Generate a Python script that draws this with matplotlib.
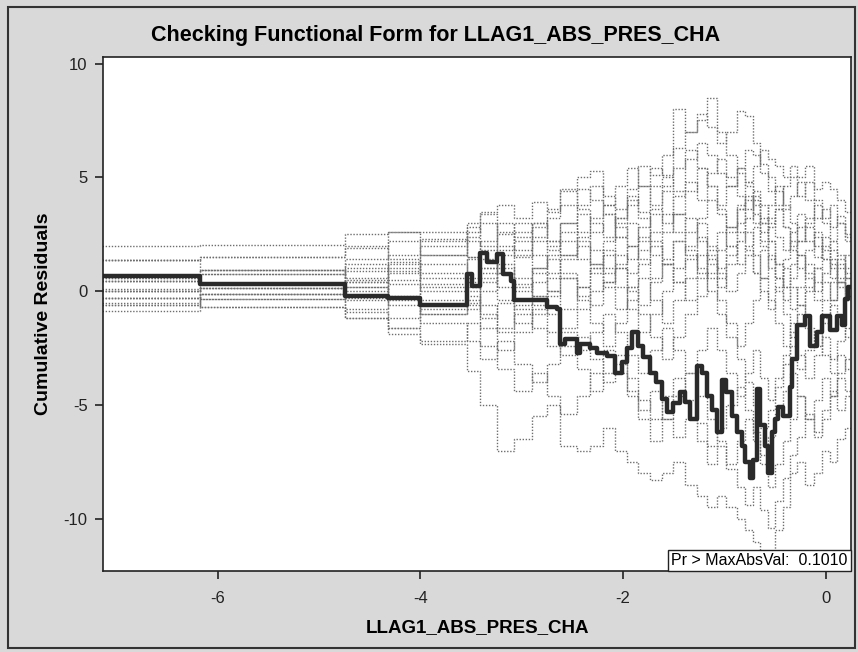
import matplotlib
matplotlib.use("Agg")
import matplotlib.pyplot as plt
from matplotlib.patches import Rectangle

plt.rcParams['font.family'] = ['Liberation Sans', 'DejaVu Sans']
plt.rcParams['axes.unicode_minus'] = False

# observed cumulative residual path (step function)
obs_x = [-7.2, -6.17, -4.74, -4.32, -4.00, -3.54, -3.49, -3.41, -3.34, -3.24,
         -3.18, -3.11, -3.08, -2.75, -2.65, -2.62, -2.57, -2.45, -2.42, -2.33,
         -2.26, -2.16, -2.08, -2.01, -1.96, -1.91, -1.85, -1.80, -1.73, -1.67,
         -1.62, -1.57, -1.51, -1.44, -1.39, -1.34, -1.27, -1.22, -1.17, -1.12,
         -1.07, -1.02, -0.98, -0.93, -0.88, -0.83, -0.80, -0.75, -0.72, -0.68,
         -0.65, -0.60, -0.57, -0.53, -0.50, -0.47, -0.42, -0.35, -0.33, -0.28,
         -0.21, -0.16, -0.09, -0.04, 0.04, 0.11, 0.16, 0.19, 0.22, 0.26]
obs_y = [0.66, 0.31, -0.21, -0.28, -0.62, 0.75, 0.22, 1.67, 1.27, 1.63,
         0.75, 0.44, -0.40, -0.70, -0.80, -2.30, -2.10, -2.70, -2.30, -2.50,
         -2.70, -2.85, -3.60, -3.10, -2.50, -1.80, -2.40, -2.90, -3.60, -4.00,
         -4.75, -5.30, -4.90, -4.45, -4.85, -5.60, -3.30, -3.60, -4.60, -5.20,
         -6.20, -3.90, -4.45, -5.50, -6.20, -6.80, -7.50, -8.20, -7.40, -4.30,
         -5.90, -6.80, -8.00, -6.20, -5.60, -5.10, -5.50, -4.20, -3.00, -1.50,
         -1.10, -2.40, -1.80, -1.10, -1.70, -1.10, -1.50, -0.35, 0.20, 0.20]

# simulated realizations, shared jump points
sim_x = [-7.2, -6.17, -4.74, -4.32, -4.0, -3.54, -3.41, -3.24, -3.08, -2.9,
         -2.75, -2.62, -2.45, -2.33, -2.2, -2.08, -1.96, -1.85, -1.73, -1.62,
         -1.51, -1.39, -1.27, -1.17, -1.07, -0.98, -0.88, -0.80, -0.72, -0.65,
         -0.57, -0.50, -0.42, -0.35, -0.28, -0.21, -0.12, -0.04, 0.04, 0.11,
         0.19, 0.26]
sim_a = [2.0, 2.05, 2.5, 2.6, 2.2, 3.0, 3.5, 3.8, 3.2, 3.9, 3.5, 4.5, 5.0, 5.3, 4.2, 3.6, 4.5, 5.5, 5.1, 6.0,
         8.0, 7.0, 7.5, 8.5, 7.0, 6.0, 5.2, 4.8, 5.5, 6.2, 5.8, 5.5, 5.0, 5.5, 5.0, 5.5, 4.5, 4.8, 4.5, 4.0, 3.5, 3.5]
sim_b = [1.37, 1.5, 1.9, 2.6, 2.6, 2.2, 1.8, 2.5, 3.0, 2.4, 3.2, 3.8, 4.5, 4.0, 3.4, 3.0, 3.8, 4.6, 5.4, 5.1,
         6.3, 7.0, 7.8, 7.2, 6.5, 7.0, 7.9, 7.7, 6.5, 5.6, 5.0, 4.4, 3.6, 4.2, 4.8, 4.0, 3.2, 3.6, 2.8, 3.3, 2.5, 2.5]
sim_c = [0.44, 0.93, 1.2, 0.9, 1.6, 2.4, 3.0, 2.0, 1.5, 2.2, 1.8, 2.6, 3.4, 3.0, 2.4, 3.2, 4.0, 3.5, 4.6, 5.0,
         4.4, 5.8, 6.5, 6.0, 5.2, 4.6, 5.4, 6.2, 6.0, 5.2, 4.4, 3.8, 4.6, 5.0, 4.2, 4.8, 4.0, 3.2, 3.8, 3.0, 2.2, 2.2]
sim_d = [0.0, 0.75, 0.4, 1.3, 0.8, 1.5, 1.0, 1.8, 2.6, 3.0, 2.2, 1.6, 2.4, 3.2, 3.8, 2.8, 2.0, 2.8, 3.6, 3.0,
         4.2, 4.8, 4.0, 5.2, 5.8, 5.0, 4.2, 3.6, 4.4, 3.8, 3.0, 3.6, 2.8, 2.0, 2.8, 2.2, 1.5, 2.4, 1.8, 1.0, 1.6, 1.6]
sim_e = [-0.28, 0.13, -0.3, 0.5, 1.2, 0.6, 1.4, 0.8, 0.2, 1.0, 1.6, 2.2, 1.4, 0.8, 1.6, 2.4, 3.0, 2.2, 1.6, 2.6,
         3.4, 2.6, 3.2, 4.0, 3.4, 2.8, 3.6, 4.2, 3.4, 2.6, 3.2, 2.4, 1.8, 2.6, 3.4, 2.8, 2.0, 1.4, 2.2, 1.6, 0.8, 0.8]
sim_f = [-0.62, -0.13, 0.2, -0.4, 0.3, -0.5, 0.4, 1.2, 0.6, -0.2, 0.6, 1.4, 2.0, 1.2, 0.4, 1.2, 2.0, 1.4, 0.6, 1.4,
         2.2, 1.6, 0.8, 1.8, 2.6, 2.0, 1.2, 2.0, 2.8, 2.2, 1.4, 0.6, 1.4, 2.2, 1.6, 0.8, 0.0, 0.8, 1.4, 0.6, 0.0, 0.0]
sim_g = [-0.88, -0.35, -0.8, -0.2, -1.0, -0.4, -1.2, -0.5, 0.3, -0.6, 0.0, 0.8, 0.2, -0.6, 0.4, 1.0, 0.2, -0.6, 0.4, 1.2,
         0.4, -0.4, 0.6, 1.4, 0.8, 0.0, 0.8, 1.6, 0.8, 0.0, -0.8, 0.2, 1.0, 0.2, -0.6, 0.2, 1.0, 0.4, -0.4, 0.4, -0.2, -0.2]
sim_h = [0.6, -0.7, -1.2, -1.9, -2.3, -3.5, -5.0, -7.0, -6.5, -5.5, -5.0, -6.8, -7.0, -6.8, -6.0, -7.0, -7.5, -8.0, -8.3, -8.0,
         -7.5, -8.5, -9.0, -9.5, -9.0, -9.5, -10.0, -10.5, -11.0, -12.5, -11.5, -10.5, -9.5, -8.0, -7.5, -8.5, -8.0, -7.0, -7.5, -6.5, -6.0, -6.0]
sim_i = [0.1, 0.3, 0.9, 1.6, 2.3, 1.5, 0.6, -0.4, -1.4, -0.8, -1.8, -2.8, -2.0, -3.0, -4.0, -3.2, -4.4, -5.2, -4.4, -5.6,
         -6.4, -5.6, -6.6, -7.6, -6.8, -7.8, -8.6, -9.4, -8.6, -9.6, -10.4, -9.2, -8.2, -7.2, -6.4, -5.4, -6.2, -5.2, -4.4, -5.2, -4.6, -4.6]
sim_j = [-0.5, -0.35, 0.2, -0.6, -1.4, -2.2, -3.0, -2.2, -3.2, -4.0, -3.2, -2.4, -3.4, -4.4, -3.6, -2.8, -3.8, -4.8, -5.6, -4.6,
         -3.8, -4.8, -5.8, -6.8, -6.0, -5.0, -4.2, -5.2, -6.2, -7.2, -6.4, -5.4, -4.4, -3.6, -4.6, -5.6, -4.8, -3.8, -4.6, -3.6, -3.0, -3.0]
sim_k = [1.37, 0.93, 0.4, -0.3, -1.0, -0.2, -1.0, -1.8, -1.0, -0.2, -1.0, -1.8, -2.6, -1.8, -1.0, -1.8, -2.8, -3.6, -2.6, -1.6,
         -2.6, -3.6, -2.6, -1.6, -2.6, -3.6, -4.6, -3.6, -2.6, -3.8, -4.8, -3.8, -2.8, -1.8, -2.8, -3.8, -2.8, -2.0, -3.0, -2.2, -1.6, -1.6]
sim_l = [0.44, 0.75, 1.4, 2.2, 1.6, 2.6, 3.4, 2.6, 1.8, 2.8, 3.6, 4.4, 3.6, 2.6, 3.4, 2.4, 1.4, 2.4, 3.4, 4.4,
         3.4, 4.4, 5.4, 4.6, 3.6, 2.6, 3.6, 2.6, 1.6, 0.6, -0.4, -1.4, -2.4, -1.4, -0.6, -1.6, -2.4, -1.4, -0.6, -1.4, -2.0, -2.0]
sim_m = [0.0, 0.13, -0.4, -1.2, -0.6, 0.2, 1.0, 0.2, -0.8, -1.6, -2.4, -1.6, -0.8, 0.0, 0.8, 1.6, 0.8, 1.8, 2.6, 3.4,
         2.6, 1.8, 1.0, 0.0, -1.0, -2.0, -3.0, -4.0, -5.0, -6.0, -5.2, -4.2, -3.2, -2.4, -3.4, -2.6, -1.8, -2.8, -3.6, -2.8, -3.4, -3.4]
sim_n = [-0.28, -0.13, 0.5, 1.0, 0.2, -0.6, -1.6, -2.6, -1.8, -1.0, -0.2, 0.6, -0.2, 1.0, 1.8, 1.0, 0.0, -1.0, -2.0, -3.0,
         -2.0, -1.0, -0.2, 0.8, 1.8, 2.8, 3.8, 4.8, 4.0, 3.0, 2.2, 1.2, 0.2, 1.2, 2.2, 3.2, 2.4, 1.4, 0.6, 1.4, 0.6, 0.6]
sim_o = [-0.62, -0.7, -1.2, -1.6, -0.8, 0.0, 0.8, 1.6, 2.4, 1.6, 0.8, 1.6, 2.6, 1.8, 1.0, 0.2, -0.8, -1.8, -1.0, 0.0,
         1.0, 2.0, 3.0, 2.0, 1.0, 2.0, 3.0, 4.0, 3.0, 2.0, 1.0, 0.0, -1.0, -2.0, -1.0, 0.0, 1.0, 2.0, 1.2, 0.4, -0.4, -0.4]
sim_p = [0.6, 0.3, -0.9, -1.6, -2.2, -1.4, -2.4, -3.4, -4.4, -3.6, -4.6, -5.4, -4.6, -3.6, -2.6, -3.6, -4.6, -5.6, -6.6, -5.6,
         -4.6, -3.6, -4.6, -5.6, -6.6, -7.6, -6.6, -5.6, -6.6, -7.6, -8.6, -7.6, -6.6, -5.6, -4.6, -5.6, -6.4, -5.6, -4.6, -3.8, -4.4, -4.4]
sim_q = [1.37, 1.5, 2.0, 1.4, 0.6, 1.4, 2.2, 3.0, 2.2, 3.0, 2.2, 3.0, 3.8, 4.6, 3.8, 4.6, 5.4, 4.6, 3.8, 4.6,
         5.4, 6.2, 5.4, 4.6, 3.8, 4.6, 5.4, 4.6, 3.8, 3.0, 3.8, 4.6, 3.8, 3.0, 2.2, 3.0, 3.8, 3.0, 2.2, 3.0, 2.4, 2.4]
sim_r = [0.0, 0.13, 0.0, 0.8, 0.0, -0.8, 0.0, 0.8, 1.6, 0.8, 0.0, -0.8, 0.2, 1.0, 0.2, -0.8, 0.2, 1.2, 2.0, 1.2,
         0.4, 1.4, 2.4, 1.6, 0.6, 1.6, 2.6, 1.8, 0.8, 1.8, 2.8, 3.6, 2.8, 1.8, 1.0, 1.8, 2.6, 1.8, 1.0, 0.2, 1.0, 1.0]
sim_s = [-0.28, -0.13, 1.0, 0.3, -0.4, 0.4, -0.6, -1.6, -0.6, 0.4, 1.4, 0.6, -0.4, -1.4, -2.4, -1.4, -0.4, 0.6, -0.4, -1.4,
         -0.4, 0.6, 1.6, 0.6, -0.4, -1.4, -2.4, -1.4, -0.4, 0.6, 1.6, 0.6, -0.4, 0.6, 1.6, 0.6, -0.4, -1.2, -0.4, 0.4, -0.2, -0.2]
sim_t = [0.44, 0.93, 0.6, 1.2, 2.0, 2.8, 2.0, 1.0, 0.0, 1.0, 2.0, 3.0, 2.2, 1.2, 2.2, 3.2, 4.2, 3.2, 2.2, 1.2,
         2.2, 3.2, 2.2, 1.2, 0.2, 1.2, 2.2, 3.2, 4.2, 3.2, 2.2, 1.2, 0.2, -0.8, 0.2, 1.2, 0.4, -0.4, 0.4, 1.2, 0.6, 0.6]
sim_paths = [sim_a, sim_b, sim_c, sim_d, sim_e, sim_f, sim_g, sim_h, sim_i, sim_j,
             sim_k, sim_l, sim_m, sim_n, sim_o, sim_p, sim_q, sim_r, sim_s, sim_t]

x_ticks = [-6, -4, -2, 0]
y_ticks = [-10, -5, 0, 5, 10]
p_value_text = "Pr > MaxAbsVal:  0.1010"

fig = plt.figure(figsize=(8.58, 6.52), dpi=100, facecolor='#d9d9d9')
fig.patches.append(Rectangle((0.009, 0.006), 0.988, 0.983, transform=fig.transFigure,
                             fill=False, edgecolor='#333333', linewidth=1.5))
ax = fig.add_axes([0.120, 0.124, 0.872, 0.789])
ax.set_facecolor('white')

for ys in sim_paths:
    ax.plot(sim_x, ys, drawstyle='steps-post', color='#6e6e6e',
            linestyle=(0, (1, 1.2)), linewidth=1.0)
ax.plot(obs_x, obs_y, drawstyle='steps-post', color='#2a2a2a', linewidth=3.2)

ax.set_xlim(-7.13, 0.25)
ax.set_ylim(-12.3, 10.3)
ax.set_xticks(x_ticks)
ax.set_yticks(y_ticks)
ax.tick_params(direction='out', length=6, width=1.2, labelsize=12, colors='#222222', pad=5)
ax.tick_params(axis='x', pad=8)
for side in ['top', 'right', 'bottom', 'left']:
    ax.spines[side].set_linewidth(1.2)
    ax.spines[side].set_color('#222222')

ax.set_xlabel("LLAG1_ABS_PRES_CHA", fontsize=13.5, fontweight='bold', labelpad=10)
ax.set_ylabel("Cumulative Residuals", fontsize=14, fontweight='bold')
ax.yaxis.set_label_coords(-0.068, 0.5)
fig.text(0.508, 0.946, "Checking Functional Form for LLAG1_ABS_PRES_CHA",
         ha='center', va='center', fontsize=15.5, fontweight='bold')

ax.text(0.995, 0.006, p_value_text, transform=ax.transAxes, ha='right', va='bottom',
        fontsize=11.5, bbox=dict(boxstyle='square,pad=0.2', facecolor='white',
                                 edgecolor='#222222', linewidth=1))

fig.savefig("out.png", dpi=100, facecolor=fig.get_facecolor())
